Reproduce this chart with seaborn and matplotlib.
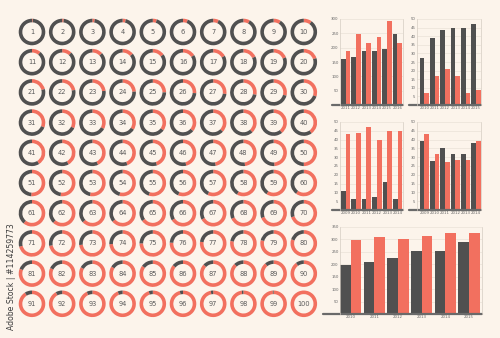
import matplotlib
matplotlib.use("Agg")
import matplotlib.pyplot as plt
import seaborn as sns
import pandas as pd

# ---------------- data ----------------
ring_values = list(range(1, 101))

years_a = ["2011", "2012", "2013", "2014", "2015", "2016"]
dark_a = [160, 167, 187, 190, 197, 249]
red_a = [190, 246, 216, 236, 292, 216]

years_b = ["2010", "2011", "2012", "2013", "2014", "2015"]
dark_b = [27.5, 39, 43.5, 45, 45, 47]
red_b = [7, 17, 21, 17, 7, 9]

years_c = ["2009", "2010", "2011", "2012", "2013", "2014"]
dark_c = [11, 6, 6, 7.5, 16, 6]
red_c = [43, 44, 47, 40, 45, 45]

years_d = ["2009", "2010", "2011", "2012", "2013", "2014"]
dark_d = [39, 28, 35.5, 32, 32, 38]
red_d = [43, 32, 27, 28.5, 28.5, 39]

years_e = ["2010", "2011", "2012", "2013", "2014", "2015"]
dark_e = [197, 209, 224, 252, 252, 291]
red_e = [296, 308, 301, 314, 327, 324]

# ---------------- style ----------------
BG = "#FCF4EB"
DARK = "#505050"
RED = "#F2705F"
TXT = "#5A5A5A"

sns.set_theme(style="white")
plt.rcParams["font.family"] = ["DejaVu Sans"]

fig = plt.figure(figsize=(5, 3.38), dpi=100, facecolor=BG)
W, H = 500, 338


def px_axes(left, top, right, bottom):
    return fig.add_axes([left / W, 1 - bottom / H, (right - left) / W, (bottom - top) / H])


# ---------------- donut grid ----------------
cell = 30.2
gx0, gy0 = 32 - cell / 2, 32 - cell / 2
axd = px_axes(gx0, gy0, gx0 + 10 * cell, gy0 + 10 * cell)
axd.set_facecolor("none")
for i, v in enumerate(ring_values):
    r, c = divmod(i, 10)
    cy = 9 - r
    axd.pie([v, 100 - v], colors=[RED, DARK], startangle=90, counterclock=False,
            center=(c, cy), radius=0.44, frame=True,
            wedgeprops=dict(width=0.12, linewidth=0))
    axd.text(c, cy, str(v), ha="center", va="center", fontsize=4.8, color=TXT)
axd.set_xlim(-0.5, 9.5)
axd.set_ylim(-0.5, 9.5)
axd.set_aspect("auto")
axd.axis("off")


# ---------------- bar charts ----------------
def bar_chart(box, years, dark, red, ymax, step, xlim):
    ax = px_axes(*box)
    df = pd.DataFrame({
        "year": years * 2,
        "value": dark + red,
        "series": ["a"] * len(years) + ["b"] * len(years),
    })
    sns.barplot(data=df, x="year", y="value", hue="series", palette=[DARK, RED],
                width=0.9, gap=0, saturation=1, legend=False, ax=ax, linewidth=0)
    ax.set_facecolor(BG)
    ax.set_ylim(0, ymax)
    ax.set_xlim(*xlim)
    ax.set_yticks(list(range(step, ymax + 1, step)))
    ax.yaxis.grid(True, color="#E6DDD2", lw=0.4)
    ax.set_axisbelow(True)
    ax.tick_params(axis="both", length=0, pad=1, labelsize=2.8, colors="#666666")
    ax.set_xlabel("")
    ax.set_ylabel("")
    for s in ("left", "right"):
        ax.spines[s].set_color("#D5CCC2")
        ax.spines[s].set_linewidth(0.5)
    ax.spines["top"].set_visible(False)
    ax.spines["bottom"].set_visible(False)
    ax.axhline(0, xmin=-0.12, xmax=1.0, color="#6A6A6A", lw=1.6, clip_on=False)
    return ax


bar_chart((340, 19, 403, 105), years_a, dark_a, red_a, 300, 50, (-0.55, 5.55))
bar_chart((417, 19, 481, 105), years_b, dark_b, red_b, 50, 5, (-0.7, 5.48))
bar_chart((340, 122, 403, 210), years_c, dark_c, red_c, 50, 5, (-0.55, 5.52))
bar_chart((417, 122, 481, 210), years_d, dark_d, red_d, 50, 5, (-0.7, 5.48))
bar_chart((340, 227, 482, 314), years_e, dark_e, red_e, 350, 50, (-0.45, 5.55))

# ---------------- stock label ----------------
fig.text(12 / W, 1 - 277 / H, "Adobe Stock | #114259773", rotation=90,
         ha="center", va="center", fontsize=5.6, color="#3C3C3C")

fig.savefig("out.png", dpi=100, facecolor=BG)
